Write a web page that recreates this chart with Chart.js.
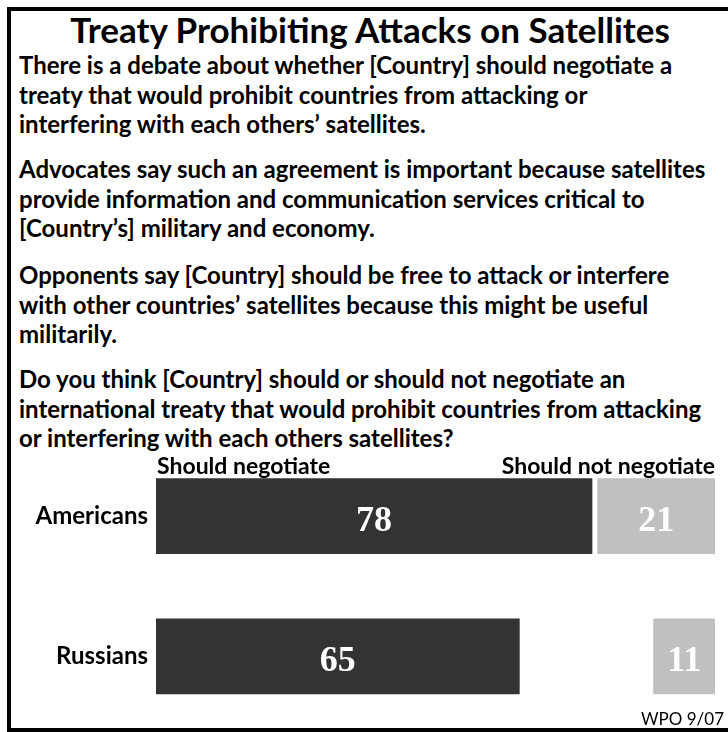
<!DOCTYPE html>
<html lang="en">
  <head>
    <meta charset="UTF-8" />
    <title>Treaty Prohibiting Attacks on Satellites</title>
    <script src="https://cdn.jsdelivr.net/npm/chart.js"></script>
    <style>
      body { margin: 0; background: #fff; }
      #page { position: relative; width: 728px; height: 732px; overflow: hidden; font-family: Lato, sans-serif; color: #000; }
      #frame { position: absolute; left: 7px; top: 7px; width: 740px; height: 717px; border: 4px solid #000; pointer-events: none; z-index: 5; }
      h1 { position: absolute; left: 0; width: 740px; top: 9px; margin: 0; text-align: center; font-size: 35px; line-height: 40px; font-weight: bold; }
      .q { position: absolute; left: 19px; margin: 0; font-size: 24px; line-height: 29.5px; font-weight: bold; white-space: nowrap; }
      #src { position: absolute; right: 4px; top: 709px; font-size: 17px; line-height: 20px; }
      #chartBox { position: absolute; left: 0; top: 420px; width: 728px; height: 329px; }
    </style>
  </head>
  <body>
    <div id="page">
      <h1>Treaty Prohibiting Attacks on Satellites</h1>
      <p class="q" style="top: 50px">There is a debate about whether [Country] should negotiate a<br />treaty that would prohibit countries from attacking or<br />interfering with each others’ satellites.</p>
      <p class="q" style="top: 154px">Advocates say such an agreement is important because satellites<br />provide information and communication services critical to<br />[Country’s] military and economy.</p>
      <p class="q" style="top: 260px">Opponents say [Country] should be free to attack or interfere<br />with other countries’ satellites because this might be useful<br />militarily.</p>
      <p class="q" style="top: 364px">Do you think [Country] should or should not negotiate an<br />international treaty that would prohibit countries from attacking<br />or interfering with each others satellites?</p>
      <div id="chartBox"><canvas id="myChart"></canvas></div>
      <div id="src">WPO 9/07</div>
      <div id="frame"></div>
    </div>

    <script>
      const countries = ["Americans", "Russians"];
      const shouldNegotiate = [78, 65];
      const shouldNot = [21, 11];

      // white numbers in the middle of each bar
      const valueLabels = {
        id: "valueLabels",
        afterDatasetsDraw(chart) {
          const ctx = chart.ctx;
          ctx.save();
          ctx.fillStyle = "#fff";
          ctx.font = "bold 36px 'Liberation Serif', serif";
          ctx.textAlign = "center";
          ctx.textBaseline = "alphabetic";
          chart.data.datasets.forEach((ds, i) => {
            chart.getDatasetMeta(i).data.forEach((bar, j) => {
              ctx.fillText(ds.values[j], (bar.x + bar.base) / 2, bar.y + 15);
            });
          });
          ctx.restore();
        },
      };

      // series names above the first row
      const seriesHeads = {
        id: "seriesHeads",
        afterDraw(chart) {
          const ctx = chart.ctx;
          const bar = chart.getDatasetMeta(0).data[0];
          const y = bar.y - bar.height / 2 - 5;
          ctx.save();
          ctx.fillStyle = "#000";
          ctx.font = "bold 23px Lato, sans-serif";
          ctx.textBaseline = "alphabetic";
          ctx.textAlign = "left";
          ctx.fillText(chart.data.datasets[0].label, chart.chartArea.left + 1, y);
          ctx.textAlign = "right";
          ctx.fillText(chart.data.datasets[1].label, chart.chartArea.right, y);
          ctx.restore();
        },
      };

      const ctx = document.getElementById("myChart").getContext("2d");
      const myChart = new Chart(ctx, {
        type: "bar",
        data: {
          labels: countries,
          datasets: [
            {
              label: "Should negotiate",
              values: shouldNegotiate,
              data: shouldNegotiate.map((v) => [0, v]),
              backgroundColor: "#333333",
              grouped: false,
              barThickness: 75,
            },
            {
              label: "Should not negotiate",
              values: shouldNot,
              data: shouldNot.map((v) => [100 - v, 100]),
              backgroundColor: "#c0c0c0",
              grouped: false,
              barThickness: 75,
            },
          ],
        },
        options: {
          indexAxis: "y",
          responsive: true,
          maintainAspectRatio: false,
          animation: false,
          layout: { padding: { top: 26, right: 13, bottom: 0, left: 0 } },
          plugins: { legend: { display: false }, tooltip: { enabled: false } },
          scales: {
            x: { display: false, min: 0, max: 100 },
            y: {
              grid: { display: false, drawTicks: false },
              border: { display: false },
              ticks: { color: "#000", padding: 8, font: { family: "Lato", size: 24, weight: "bold" } },
              afterFit: (scale) => { scale.width = 156; },
            },
          },
        },
        plugins: [valueLabels, seriesHeads],
      });
    </script>
  </body>
</html>
